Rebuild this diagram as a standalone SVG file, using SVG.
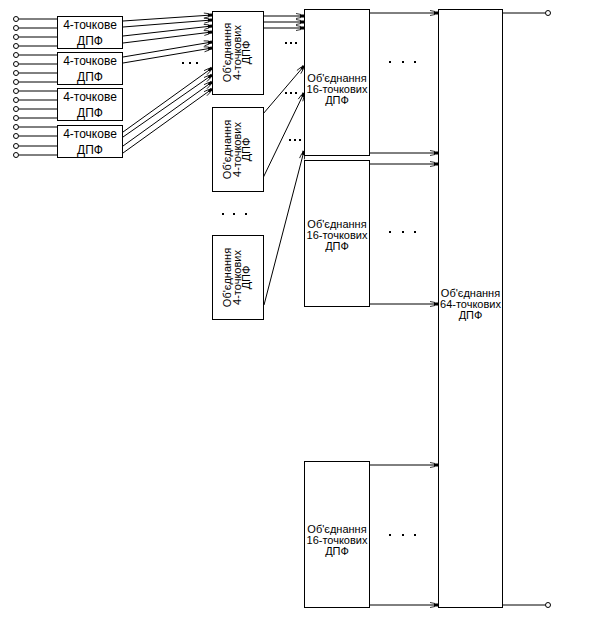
<svg xmlns="http://www.w3.org/2000/svg" width="594" height="617" viewBox="0 0 594 617">
<style>
.b{fill:#fff;stroke:#000;stroke-width:1}
.l{fill:none;stroke:#000;stroke-width:1}
.a{fill:none;stroke:#000;stroke-width:1;marker-end:url(#ar)}
.t{font-family:"Liberation Sans",Arial,sans-serif;font-size:11px;fill:#000;text-anchor:middle}
.t4{font-family:"Liberation Sans",Arial,sans-serif;font-size:12px;fill:#000;text-anchor:middle}
.c{fill:#fff;stroke:#000;stroke-width:1}
.d{fill:#000}
</style>
<defs>
<marker id="ar" markerUnits="userSpaceOnUse" markerWidth="12" markerHeight="8" refX="10" refY="4" orient="auto" viewBox="0 0 12 8">
<path d="M2,1.5 L7,2.5 M2,6.5 L7,5.5" fill="none" stroke="#000" stroke-width="0.8"/>
<rect x="6" y="2.5" width="4" height="3" fill="#000"/>
</marker>
</defs>

<g id="inputs">
<g class="l">
<path d="M19,19H57M19,28H57M19,37H57M19,46H57"/>
<path d="M19,55H57M19,64H57M19,73H57M19,82H57"/>
<path d="M19,91H57M19,100H57M19,109H57M19,118H57"/>
<path d="M19,127H57M19,136H57M19,146H57M19,155H57"/>
</g>
<g class="c">
<circle cx="16" cy="19" r="2.5"/><circle cx="16" cy="28" r="2.5"/><circle cx="16" cy="37" r="2.5"/><circle cx="16" cy="46" r="2.5"/>
<circle cx="16" cy="55" r="2.5"/><circle cx="16" cy="64" r="2.5"/><circle cx="16" cy="73" r="2.5"/><circle cx="16" cy="82" r="2.5"/>
<circle cx="16" cy="91" r="2.5"/><circle cx="16" cy="100" r="2.5"/><circle cx="16" cy="109" r="2.5"/><circle cx="16" cy="118" r="2.5"/>
<circle cx="16" cy="127" r="2.5"/><circle cx="16" cy="136" r="2.5"/><circle cx="16" cy="146" r="2.5"/><circle cx="16" cy="155" r="2.5"/>
</g>
</g>

<g id="connectors">
<path class="a" d="M123,21L212,15"/>
<path class="a" d="M123,27L212,20"/>
<path class="a" d="M123,36L212,26"/>
<path class="a" d="M123,43L212,32"/>
<path class="a" d="M123,57L212,42"/>
<path class="a" d="M123,63L212,48"/>
<path class="a" d="M123,132L212,68"/>
<path class="a" d="M123,137L212,75"/>
<path class="a" d="M123,146L212,82"/>
<path class="a" d="M123,153L212,89"/>
<path class="a" d="M263,16H304"/>
<path class="a" d="M263,22H304"/>
<path class="a" d="M263,28H304"/>
<path class="a" d="M263,114L304,66"/>
<path class="a" d="M263,178L304,93"/>
<path class="a" d="M264,305L304,151"/>
<path class="a" d="M369,13H438"/>
<path class="a" d="M369,153H438"/>
<path class="a" d="M369,164H438"/>
<path class="a" d="M369,304H438"/>
<path class="a" d="M369,465H438"/>
<path class="a" d="M369,605H438"/>
<path class="l" d="M502,13H545.5M502,605H545.5"/>
<circle class="c" cx="548" cy="13" r="2.5"/>
<circle class="c" cx="548" cy="605" r="2.5"/>
</g>

<g id="dots" class="d">
<rect x="182" y="62" width="2" height="2"/><rect x="189" y="62" width="2" height="2"/><rect x="196" y="62" width="2" height="2"/>
<rect x="285" y="42" width="2" height="2"/><rect x="290" y="42" width="2" height="2"/><rect x="295" y="42" width="2" height="2"/>
<rect x="285" y="92" width="2" height="2"/><rect x="290" y="92" width="2" height="2"/><rect x="295" y="92" width="2" height="2"/>
<rect x="289" y="139" width="2" height="2"/><rect x="294" y="139" width="2" height="2"/><rect x="299" y="139" width="2" height="2"/>
<rect x="222" y="213" width="2" height="2"/><rect x="233" y="213" width="2" height="2"/><rect x="245" y="213" width="2" height="2"/>
<rect x="389" y="61" width="2" height="2"/><rect x="402" y="61" width="2" height="2"/><rect x="414" y="61" width="2" height="2"/>
<rect x="389" y="231" width="2" height="2"/><rect x="402" y="231" width="2" height="2"/><rect x="414" y="231" width="2" height="2"/>
<rect x="389" y="534" width="2" height="2"/><rect x="402" y="534" width="2" height="2"/><rect x="414" y="534" width="2" height="2"/>
</g>

<g id="dft4-1"><rect class="b" x="57.5" y="16.5" width="65" height="32"/><text class="t4" x="90" y="29">4-точкове</text><text class="t4" x="90" y="45">ДПФ</text></g>
<g id="dft4-2"><rect class="b" x="57.5" y="52.5" width="65" height="32"/><text class="t4" x="90" y="65">4-точкове</text><text class="t4" x="90" y="81">ДПФ</text></g>
<g id="dft4-3"><rect class="b" x="57.5" y="88.5" width="65" height="32"/><text class="t4" x="90" y="101">4-точкове</text><text class="t4" x="90" y="117">ДПФ</text></g>
<g id="dft4-4"><rect class="b" x="57.5" y="125.5" width="65" height="32"/><text class="t4" x="90" y="138">4-точкове</text><text class="t4" x="90" y="154">ДПФ</text></g>

<g id="comb4-1"><rect class="b" x="212.5" y="11.5" width="51" height="83"/>
<g transform="translate(237.5,52.5) rotate(-90)"><text class="t" x="0" y="-6.5">Об'єднання</text><text class="t" x="0" y="3">4-точкових</text><text class="t" x="0" y="12.5">ДПФ</text></g></g>
<g id="comb4-2"><rect class="b" x="212.5" y="107.5" width="51" height="84"/>
<g transform="translate(237.5,149.5) rotate(-90)"><text class="t" x="0" y="-6.5">Об'єднання</text><text class="t" x="0" y="3">4-точкових</text><text class="t" x="0" y="12.5">ДПФ</text></g></g>
<g id="comb4-4"><rect class="b" x="212.5" y="235.5" width="51" height="84"/>
<g transform="translate(237.5,277.5) rotate(-90)"><text class="t" x="0" y="-6.5">Об'єднання</text><text class="t" x="0" y="3">4-точкових</text><text class="t" x="0" y="12.5">ДПФ</text></g></g>

<g id="comb16-1"><rect class="b" x="304.5" y="9.5" width="65" height="146"/><text class="t" x="337" y="82">Об'єднання</text><text class="t" x="337" y="93">16-точкових</text><text class="t" x="337" y="104">ДПФ</text></g>
<g id="comb16-2"><rect class="b" x="304.5" y="160.5" width="65" height="146"/><text class="t" x="337" y="228">Об'єднання</text><text class="t" x="337" y="239">16-точкових</text><text class="t" x="337" y="250">ДПФ</text></g>
<g id="comb16-3"><rect class="b" x="304.5" y="461.5" width="65" height="146"/><text class="t" x="337" y="533">Об'єднання</text><text class="t" x="337" y="544">16-точкових</text><text class="t" x="337" y="555">ДПФ</text></g>

<g id="comb64"><rect class="b" x="438.5" y="9.5" width="64" height="598"/><text class="t" x="470.5" y="297">Об'єднання</text><text class="t" x="470.5" y="308">64-точкових</text><text class="t" x="470.5" y="319">ДПФ</text></g>
</svg>
